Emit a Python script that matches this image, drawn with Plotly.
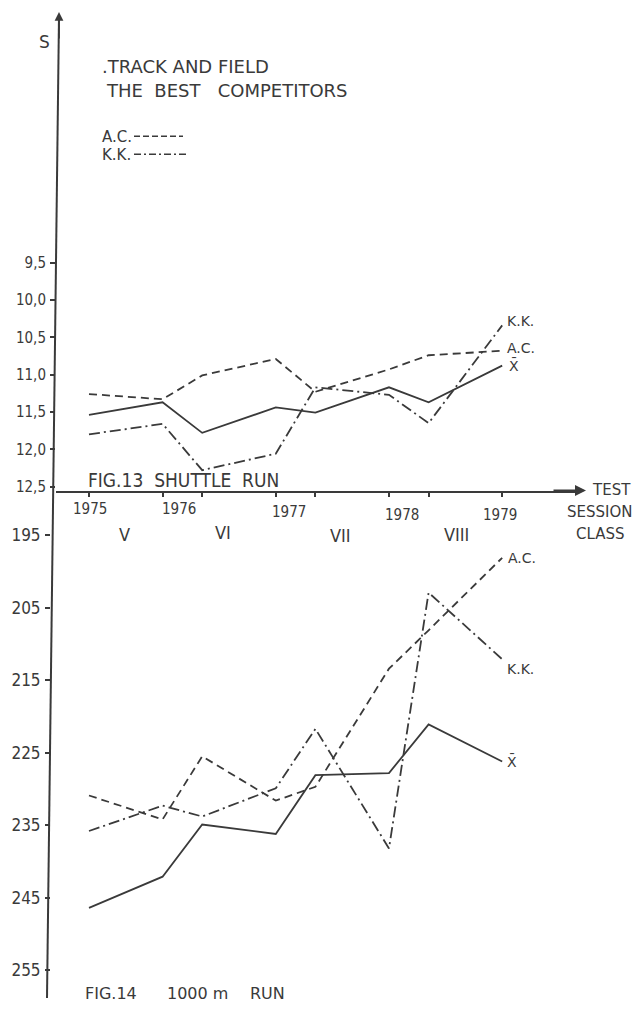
import plotly.graph_objects as go

W, H = 637, 1009

# ---------------- data ----------------
session_time = [1975.3, 1975.95, 1976.3, 1976.95, 1977.3, 1977.95, 1978.3, 1978.95]
year_labels = ["1975", "1976", "1977", "1978", "1979"]
class_labels = ["V", "VI", "VII", "VIII"]

# FIG.13 shuttle run (s)
shuttle_ac = [11.26, 11.33, 11.01, 10.79, 11.23, 10.93, 10.74, 10.68]
shuttle_kk = [11.80, 11.66, 12.28, 12.06, 11.17, 11.27, 11.65, 10.34]
shuttle_mean = [11.54, 11.37, 11.78, 11.44, 11.51, 11.17, 11.37, 10.88]

# FIG.14 1000 m run (s)
run_ac = [230.9, 234.2, 225.5, 231.6, 229.7, 213.4, 208.1, 198.1]
run_kk = [235.8, 232.3, 233.8, 229.9, 221.7, 238.2, 202.9, 212.1]
run_mean = [246.4, 242.1, 234.9, 236.2, 228.1, 227.8, 221.1, 226.2]

upper_tickvals = [9.5, 10.0, 10.5, 11.0, 11.5, 12.0, 12.5]
upper_ticktext = ["9,5", "10,0", "10,5", "11,0", "11,5", "12,0", "12,5"]
lower_tickvals = [195, 205, 215, 225, 235, 245, 255]
lower_ticktext = ["195", "205", "215", "225", "235", "245", "255"]

# ---------------- helpers ----------------
def px(x):
    return x / W

def py(y):
    return 1 - y / H

INK = "#3a3a3a"
COND = "DejaVu Sans Condensed, sans-serif"
SANS = "DejaVu Sans, sans-serif"
DASH_AC = "8px,5px"
DASH_KK = "11px,4px,2px,4px"

fig = go.Figure()

def add_series(y, yaxis, dash, xaxis):
    fig.add_trace(go.Scatter(
        x=session_time, y=y, mode="lines", xaxis=xaxis, yaxis=yaxis,
        line=dict(color=INK, width=1.8, dash=dash), hoverinfo="skip"))

add_series(shuttle_ac, "y", DASH_AC, "x")
add_series(shuttle_kk, "y", DASH_KK, "x")
add_series(shuttle_mean, "y", "solid", "x")
add_series(run_ac, "y2", DASH_AC, "x2")
add_series(run_kk, "y2", DASH_KK, "x2")
add_series(run_mean, "y2", "solid", "x2")

# axis geometry (pixels)
x_dom = [px(56), px(577)]
x_range = [1975.3 - 33 / 113.2, 1975.3 + 488 / 113.2]
axis_y = 493
up_dom = [py(axis_y), py(13)]
up_range = [12.5 + (axis_y - 489) / 75.0, 9.5 - (264 - 13) / 75.0]
lo_dom = [py(1003), py(axis_y)]
lo_range = [255 + (1003 - 975) / 7.283, 195 - (538 - axis_y) / 7.283]

fig.update_layout(
    width=W, height=H,
    margin=dict(l=0, r=0, t=0, b=0),
    paper_bgcolor="white", plot_bgcolor="white",
    showlegend=False,
    xaxis=dict(domain=x_dom, range=x_range, anchor="y", showline=True,
               linecolor=INK, linewidth=2, ticks="outside", ticklen=4,
               tickwidth=1.5, tickcolor=INK, tickvals=session_time,
               showticklabels=False, showgrid=False, zeroline=False),
    xaxis2=dict(domain=x_dom, range=x_range, anchor="y2", matches="x",
                visible=False),
    yaxis=dict(domain=up_dom, range=up_range, anchor="free", position=px(55),
               showline=False, ticks="outside", ticklen=5, tickwidth=1.5,
               tickcolor=INK, tickvals=upper_tickvals, ticktext=upper_ticktext,
               tickfont=dict(family=COND, size=15, color=INK),
               ticklabelstandoff=1, showgrid=False, zeroline=False),
    yaxis2=dict(domain=lo_dom, range=lo_range, anchor="free", position=px(50),
                showline=False, ticks="outside", ticklen=5, tickwidth=1.5,
                tickcolor=INK, tickvals=lower_tickvals, ticktext=lower_ticktext,
                tickfont=dict(family=COND, size=17, color=INK),
                ticklabelstandoff=1, showgrid=False, zeroline=False),
)

shapes = [
    # hand-drawn vertical axis
    dict(type="line", xref="paper", yref="paper", x0=px(59), y0=py(16),
         x1=px(47), y1=py(1003), line=dict(color=INK, width=2)),
    # legend samples
    dict(type="line", xref="paper", yref="paper", x0=px(134), y0=py(137),
         x1=px(183), y1=py(137), line=dict(color=INK, width=1.5, dash="6px,3px")),
    dict(type="line", xref="paper", yref="paper", x0=px(134), y0=py(155),
         x1=px(187), y1=py(155), line=dict(color=INK, width=1.5, dash="7px,3px,2px,3px")),
]
fig.update_layout(shapes=shapes)

ann = []

def txt(text, x, y, size=16, xanchor="center", family=SANS):
    ann.append(dict(text=text, x=px(x), y=py(y), xref="paper", yref="paper",
                    xanchor=xanchor, yanchor="middle", showarrow=False,
                    font=dict(family=family, size=size, color=INK)))

# arrows
ann.append(dict(x=px(59), y=py(12), xref="paper", yref="paper", ax=0, ay=28,
                text="", showarrow=True, arrowhead=2, arrowsize=1.1,
                arrowwidth=1.6, arrowcolor=INK))
ann.append(dict(x=px(586), y=py(axis_y), xref="paper", yref="paper", ax=-34, ay=0,
                text="", showarrow=True, arrowhead=2, arrowsize=1.0,
                arrowwidth=2.2, arrowcolor=INK))

txt("S", 44, 42, 17)
txt(".TRACK AND FIELD", 100, 67, 18, "left")
txt("THE  BEST   COMPETITORS", 104, 91, 18, "left")
txt("A.C.", 100, 138, 15, "left")
txt("K.K.", 100, 156, 15, "left")
txt("FIG.13  SHUTTLE  RUN", 86, 482, 19, "left", COND)

year_px = [(90, 512), (179, 512), (289, 515), (402, 518), (500, 518)]
for lab, (x, y) in zip(year_labels, year_px):
    txt(lab, x, y, 15, "center", COND)
class_px = [(124, 537), (223, 535), (340, 538), (456, 537)]
for lab, (x, y) in zip(class_labels, class_px):
    txt(lab, x, y, 18, "center", COND)

txt("TEST", 633, 492, 15, "right")
txt("SESSION", 635, 515, 15, "right")
txt("CLASS", 626, 537, 15, "right")

txt("FIG.14", 83, 998, 16, "left")
txt("1000 m", 165, 998, 16, "left")
txt("RUN", 248, 998, 16, "left")

# end-of-line labels tied to the data
def end_label(text, series, xaxis, yaxis, xshift, yshift):
    ann.append(dict(text=text, x=session_time[-1], y=series[-1], xref=xaxis,
                    yref=yaxis, xanchor="left", yanchor="middle",
                    showarrow=False, xshift=xshift, yshift=yshift,
                    font=dict(family=SANS, size=14, color=INK)))

end_label("K.K.", shuttle_kk, "x", "y", 3, 4)
end_label("A.C.", shuttle_ac, "x", "y", 3, 3)
end_label("X\u0304", shuttle_mean, "x", "y", 5, 0)
end_label("A.C.", run_ac, "x2", "y2", 4, 0)
end_label("K.K.", run_kk, "x2", "y2", 3, -10)
end_label("X\u0304", run_mean, "x2", "y2", 3, 0)

fig.update_layout(annotations=ann)
fig.write_html(
    "out.html",
    config={"displayModeBar": False},
    post_script="document.body.style.margin='0';document.body.style.overflow='hidden';",
)
